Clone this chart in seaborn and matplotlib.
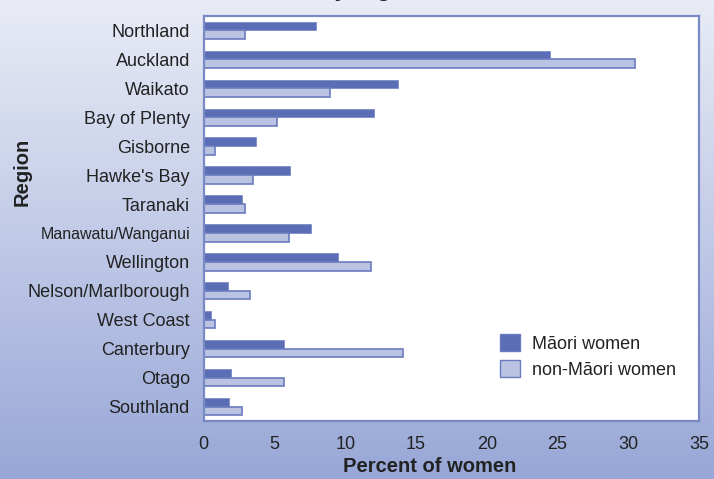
import numpy as np
import pandas as pd
import matplotlib
matplotlib.use("Agg")
import matplotlib.pyplot as plt
import seaborn as sns

# data
regions = ["Northland", "Auckland", "Waikato", "Bay of Plenty", "Gisborne",
           "Hawke's Bay", "Taranaki", "Manawatu/Wanganui", "Wellington",
           "Nelson/Marlborough", "West Coast", "Canterbury", "Otago", "Southland"]
maori = [7.9, 24.5, 13.7, 12.0, 3.7, 6.1, 2.7, 7.6, 9.5, 1.7, 0.5, 5.7, 1.9, 1.8]
non_maori = [2.9, 30.5, 8.9, 5.2, 0.8, 3.5, 2.9, 6.0, 11.8, 3.3, 0.8, 14.1, 5.7, 2.7]
groups = ["Māori women", "non-Māori women"]
x_ticks = [0, 5, 10, 15, 20, 25, 30, 35]

df = pd.DataFrame({
    "Region": regions * 2,
    "Percent": maori + non_maori,
    "Group": [groups[0]] * len(regions) + [groups[1]] * len(regions),
})

sns.set_style("white")
plt.rcParams["font.family"] = ["Liberation Sans", "DejaVu Sans"]

dark = "#5b6db4"
light = "#bac3e2"
edge = "#6a7bbf"
txt = "#222222"

fig = plt.figure(figsize=(7.14, 4.79), dpi=100)

# gradient background
bg = fig.add_axes([0, 0, 1, 1], zorder=-10)
top_c = np.array([233, 236, 246]) / 255
bot_c = np.array([152, 167, 215]) / 255
t = np.linspace(0, 1, 256)[:, None, None]
grad = top_c * (1 - t) + bot_c * t
bg.imshow(np.repeat(grad, 2, axis=1), aspect="auto", extent=[0, 1, 0, 1])
bg.axis("off")

ax = fig.add_axes([0.2854, 0.1211, 0.6936, 0.8455])
ax.set_facecolor("white")

sns.barplot(data=df, y="Region", x="Percent", hue="Group", orient="h",
            palette=[dark, light], width=0.6, ax=ax, saturation=1)

n = len(regions)
for i, bar in enumerate(ax.patches[:2 * n]):
    if i < n:
        bar.set_edgecolor("#7d8cc8")
        bar.set_linewidth(0.6)
    else:
        bar.set_edgecolor(edge)
        bar.set_linewidth(1.2)

ax.set_xlim(0, 35)
ax.set_ylim(n - 0.5, -0.5)
ax.set_xticks(x_ticks)
ax.set_xticklabels([str(v) for v in x_ticks], fontsize=13, color=txt)

ax.set_yticks(range(n))
ax.set_yticklabels(regions, fontsize=13, color=txt)
for lab in ax.get_yticklabels():
    if lab.get_text() == "Manawatu/Wanganui":
        lab.set_fontsize(11.5)
ax.set_yticks(np.arange(-0.5, n + 0.5, 1), minor=True)
ax.tick_params(axis="y", which="major", length=0, pad=10)
ax.tick_params(axis="y", which="minor", length=8, direction="inout", color=edge, width=1.2)
ax.tick_params(axis="x", which="major", length=9, direction="inout", color=edge, width=1.2, pad=6)

for s in ax.spines.values():
    s.set_color("#7889c6")
    s.set_linewidth(1.6)
    s.set_visible(True)

ax.set_xlabel("Percent of women", fontsize=14.5, fontweight="bold", color=txt)
ax.xaxis.set_label_coords(0.457, -0.088)
ax.set_ylabel("Region", fontsize=14.5, fontweight="bold", color=txt)
ax.yaxis.set_label_coords(-0.347, 0.615)

leg = ax.legend(loc="upper left", bbox_to_anchor=(0.58, 0.237), frameon=False,
                fontsize=13, handlelength=1.1, handleheight=1.1,
                handletextpad=0.65, labelspacing=0.4, borderpad=0)
for h in leg.legend_handles:
    h.set_edgecolor(edge)
    h.set_linewidth(1.0)
for tx in leg.get_texts():
    tx.set_color(txt)

# title mostly cut off by the top edge in the reference
fig.text(0.689, 1.0 + 4.5 / 479, "Distribution of women by region, 2006", ha="right",
         va="baseline", fontsize=17, fontweight="bold", color=txt)

fig.savefig("out.png", dpi=100)
